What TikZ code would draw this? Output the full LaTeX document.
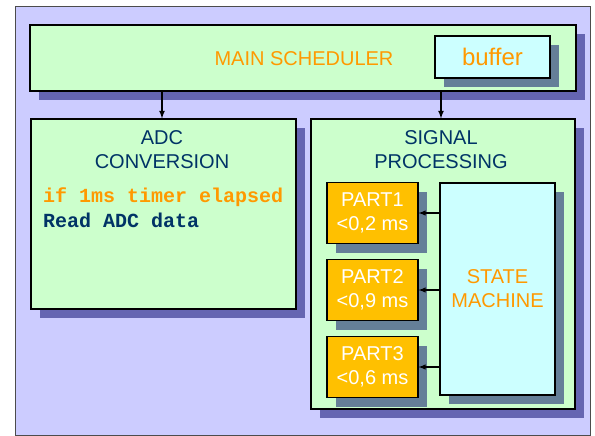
\documentclass[tikz,border=0pt]{standalone}
\usepackage{fontspec}
\setmainfont{Liberation Sans}
\setmonofont{Liberation Mono}
\usetikzlibrary{shadows}
\definecolor{lavender}{HTML}{CCCCFF}
\definecolor{mintgreen}{HTML}{CCFFCC}
\definecolor{paleaqua}{HTML}{CCFFFF}
\definecolor{gold}{HTML}{FFC000}
\definecolor{textorange}{HTML}{FF9900}
\definecolor{navy}{HTML}{003366}
\definecolor{shadowblue}{HTML}{000066}

\begin{document}
\begin{tikzpicture}[x=1pt, y=-1pt, >=latex,
    every node/.style={font=\fontsize{20}{24}\selectfont},
    box/.style={draw=black, line width=1.2pt, inner sep=0pt,
      general shadow={fill=shadowblue, opacity=.5, shadow xshift=9pt, shadow yshift=-9pt}},
    code/.style={anchor=west, inner sep=0pt, font=\fontsize{20}{24}\selectfont\ttfamily\bfseries}]
    \useasboundingbox (0,0) rectangle (595,436);
    \draw[gray!60!black, fill=lavender, line width=0.8pt] (15,6) rectangle (590,435);
    % scheduler row
    \node[box, fill=mintgreen, minimum width=546pt, minimum height=66pt] (sched) at (303,58) {};
    \node[textorange] (schedtxt) at (304,59) {MAIN SCHEDULER};
    \node[box, fill=paleaqua, minimum width=115pt, minimum height=42pt, text=textorange,
      font=\fontsize{24}{29}\selectfont] (buf) at (492.5,57) {buffer};
    % the two tasks
    \node[box, fill=mintgreen, minimum width=265pt, minimum height=190pt] (adc) at (163.5,214) {};
    \node[navy, align=center] (adctxt) at (162,150) {ADC\\CONVERSION};
    \node[code, textorange] (ifline) at (43,197) {if 1ms timer elapsed};
    \node[code, navy] (readline) at (43,220) {Read ADC data};
    \node[box, fill=mintgreen, minimum width=264pt, minimum height=290pt] (sig) at (443,264) {};
    \node[navy, align=center] (sigtxt) at (441,150) {SIGNAL\\PROCESSING};
    \draw[->, line width=1.6pt] (sched.south -| adctxt) -- (adctxt |- adc.north);
    \draw[->, line width=1.6pt] (sched.south -| sigtxt) -- (sigtxt |- sig.north);
    % state machine and its parts
    \node[box, fill=paleaqua, minimum width=115pt, minimum height=212pt, text=textorange,
      align=center] (sm) at (497.5,289) {STATE\\MACHINE};
    \foreach \n/\y/\t in {1/213/{0,2}, 2/290/{0,9}, 3/367/{0,6}}{
      \node[box, fill=gold, text=white, align=center, minimum width=91pt, minimum height=61pt]
        (p\n) at (372.5,\y) {PART\n\\<\t{} ms};
      \draw[->, line width=1.4pt] (sm.west |- p\n.east) -- (p\n.east);
    }
\end{tikzpicture}
\end{document}
